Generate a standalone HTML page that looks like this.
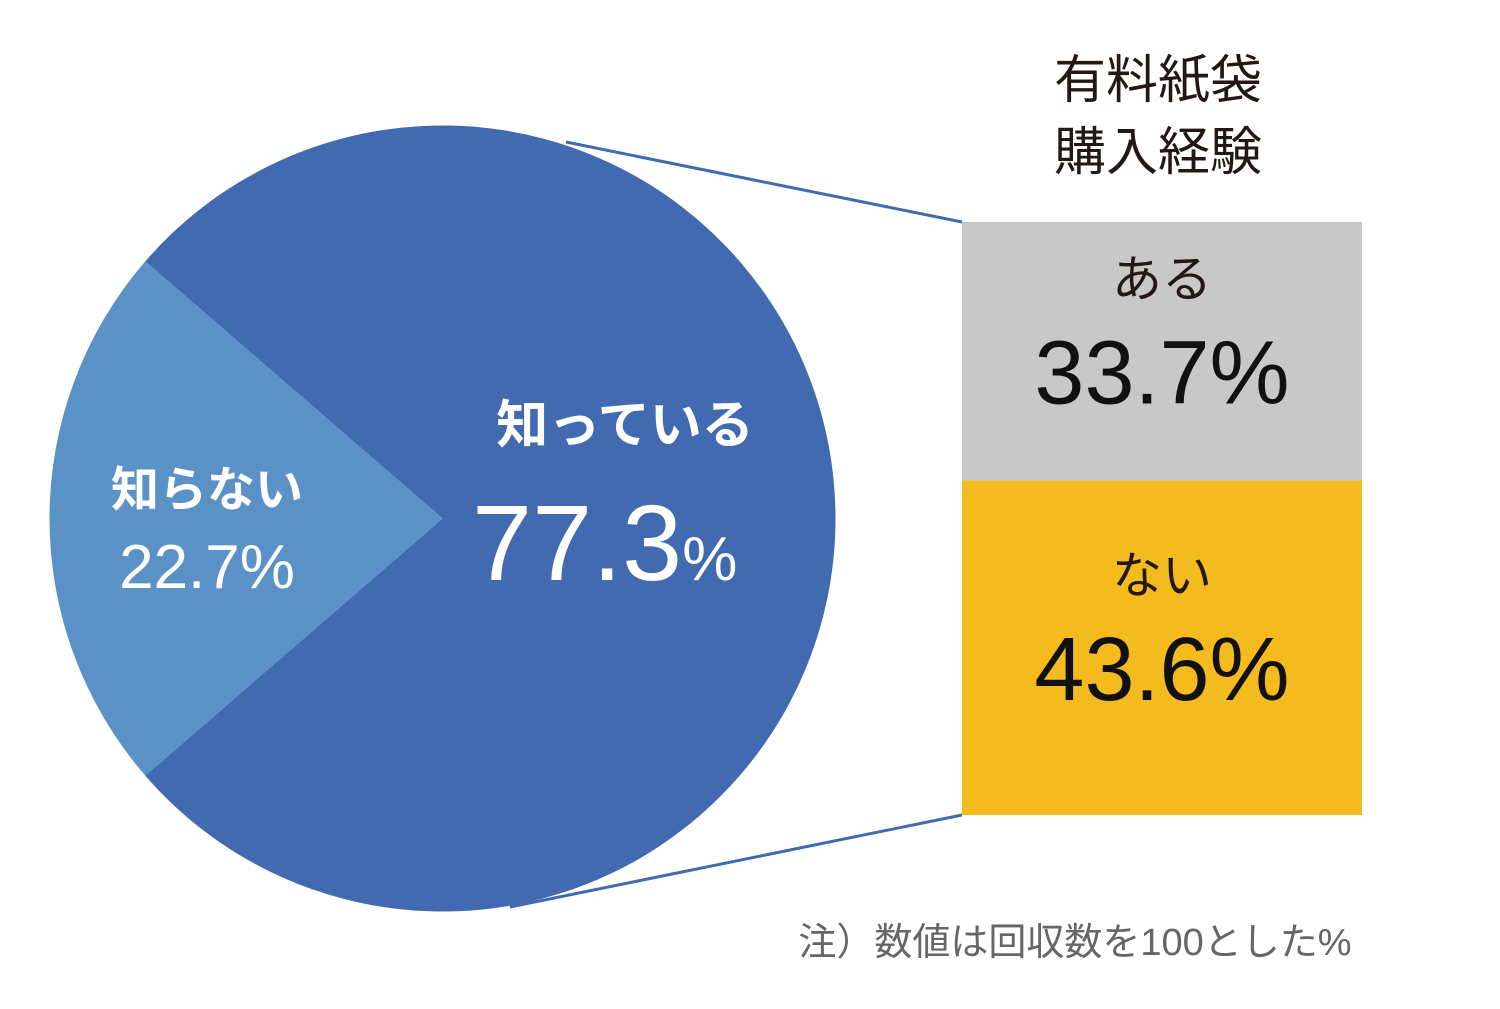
<!DOCTYPE html>
<html><head><meta charset="utf-8">
<style>
html,body{margin:0;padding:0;background:#fff;}
svg{display:block;font-family:"Liberation Sans","Noto Sans CJK JP",sans-serif;}
</style></head>
<body>
<svg id="chart" width="1500" height="1009" viewBox="0 0 1500 1009">
<g id="pie"></g>
<g id="bar"></g>
<g id="labels"></g>
<text x="1158" y="98" text-anchor="middle" font-size="52" fill="#231815">有料紙袋</text>
<text x="1158" y="170" text-anchor="middle" font-size="52" fill="#231815">購入経験</text>
<text x="1075" y="955" text-anchor="middle" font-size="38" fill="#666">注）数値は回収数を100とした%</text>
</svg>
<script>
const pieCategories = ["知っている","知らない"];
const pieValues = [77.3, 22.7];
const barCategories = ["ある","ない"];
const barValues = [33.7, 43.6];

const NS="http://www.w3.org/2000/svg";
function mk(tag,attrs,parent,text){const e=document.createElementNS(NS,tag);for(const k in attrs)e.setAttribute(k,attrs[k]);if(text!==undefined)e.textContent=text;parent.appendChild(e);return e;}
const cx=442.5, cy=518.5, r=393;
const pieG=document.getElementById('pie'), barG=document.getElementById('bar'), labG=document.getElementById('labels');
const total=pieValues.reduce((a,b)=>a+b,0);
// light slice centered at 180deg (left)
const smallAng=pieValues[1]/total*2*Math.PI;
const a0=Math.PI-smallAng/2, a1=Math.PI+smallAng/2; // screen angles (y down): using cos, -sin
function pt(a){return [cx+r*Math.cos(a), cy-r*Math.sin(a)];}
const p0=pt(a0), p1=pt(a1);
// big slice
let bigPath=`M${cx},${cy} L${p1[0]},${p1[1]} A${r},${r} 0 1 0 ${p0[0]},${p0[1]} Z`;
let smallPath=`M${cx},${cy} L${p0[0]},${p0[1]} A${r},${r} 0 0 0 ${p1[0]},${p1[1]} Z`;
let e=mk('path',{d:bigPath,fill:'#416ab0'},pieG);


e=mk('path',{d:smallPath,fill:'#5a92c8'},pieG);


// bar
const barX=962, barW=400, barTop=222, barBot=815;
const barTotal=barValues.reduce((a,b)=>a+b,0);
const scale=(barBot-barTop)/barTotal;
const colors=['#c8c8c8','#f4bb1f'];
let y=barTop;
barValues.forEach((v,i)=>{
  const h=v*scale;
  const rct=mk('rect',{x:barX,y:y,width:barW,height:h,fill:colors[i]},barG);
  
  
  const mid=y+h/2;
  const t1=mk('text',{x:barX+barW/2,y:mid-55,'text-anchor':'middle','font-size':50,fill:'#231815'},labG,barCategories[i]);
  
  
  const t2=mk('text',{x:barX+barW/2,y:mid+52,'text-anchor':'middle','font-size':90,fill:'#111'},labG,v.toFixed(1)+'%');
  
  
  y+=h;
});
// connector lines
const ln1=mk('line',{x1:566,y1:142,x2:barX,y2:barTop,stroke:'#416ab0','stroke-width':3},pieG);


const ln2=mk('line',{x1:510,y1:907,x2:barX,y2:barBot,stroke:'#416ab0','stroke-width':3},pieG);


// pie labels
let t=mk('text',{x:625,y:443,'text-anchor':'middle','font-size':52,'font-weight':'bold',fill:'#fff'},labG,pieCategories[0]);


t=mk('text',{x:472,y:580,'font-size':108,fill:'#fff'},labG,pieValues[0].toFixed(1));


mk('tspan',{'font-size':62},t,'%');
t=mk('text',{x:207,y:506,'text-anchor':'middle','font-size':48,'font-weight':'bold',fill:'#fff'},labG,pieCategories[1]);


t=mk('text',{x:207,y:588,'text-anchor':'middle','font-size':62,fill:'#fff'},labG,pieValues[1].toFixed(1)+'%');


</script>
</body></html>
